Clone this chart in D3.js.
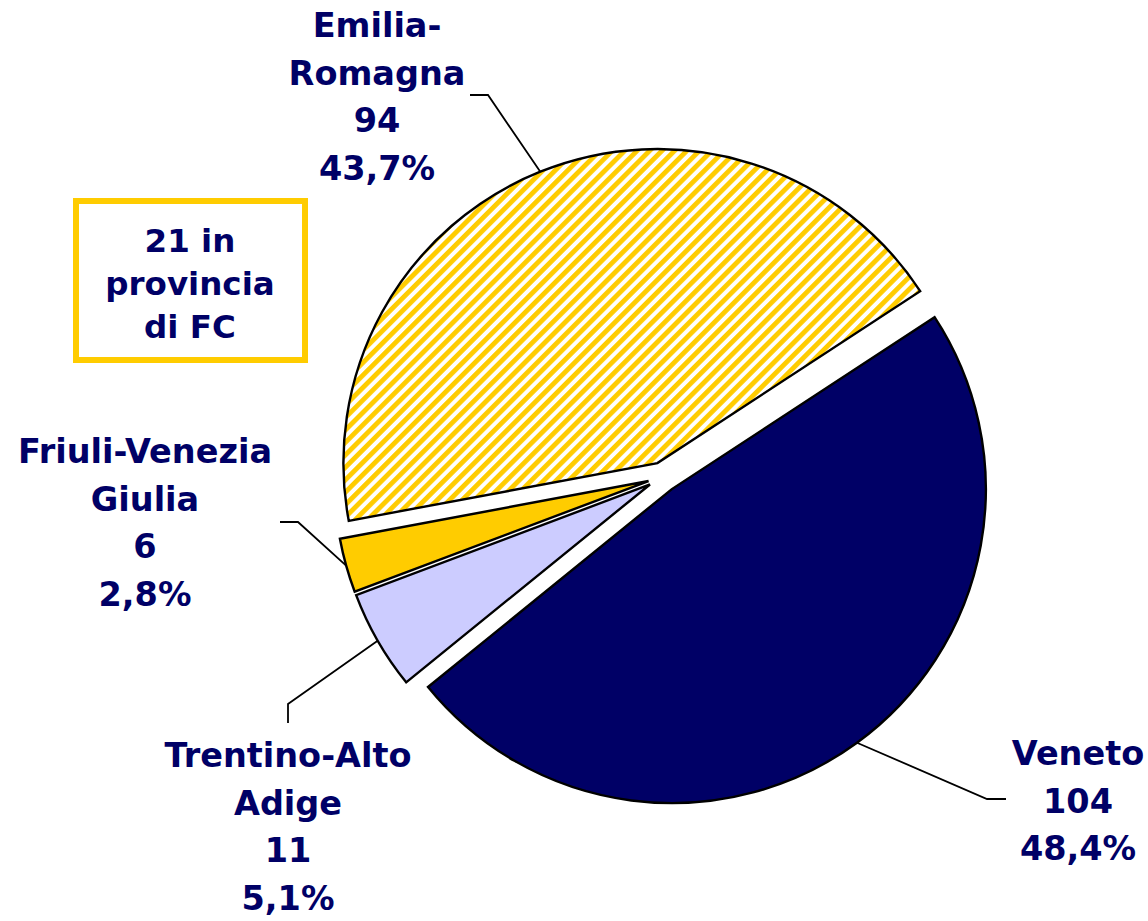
<!DOCTYPE html>
<html><head><meta charset="utf-8">
<script src="https://cdn.jsdelivr.net/npm/d3@7/dist/d3.min.js"></script>
<style>html,body{margin:0;padding:0;background:#fff;}</style>
</head><body>
<svg id="chart" width="1148" height="921"></svg>
<script>
// ---- data ----
const regions = ["Veneto", "Trentino-Alto Adige", "Friuli-Venezia Giulia", "Emilia-Romagna"];
const values = [104, 11, 6, 94];
const labelLines = [["Veneto"], ["Trentino-Alto", "Adige"], ["Friuli-Venezia", "Giulia"], ["Emilia-", "Romagna"]];
const noteLines = ["21 in", "provincia", "di FC"];

// ---- layout / style ----
const W = 1148, H = 921;
const cx = 663, cy = 477, R = 314, explode = 15;
const startDeg = 56.8;
const fills = ["#000066", "#CCCCFF", "#FFCC00", "url(#hatch)"];
const textColor = "#000066";
const fontSize = 33.5, lineH = 47.7;
// label anchor (center x, first baseline y), leader elbow & end
const labelLayout = [
  {x: 1078, y: 765, elbow: [987, 799], end: [1006, 799]},
  {x: 288, y: 767, elbow: [288, 704], end: [288, 723]},
  {x: 145, y: 463, elbow: [298, 522], end: [280, 522]},
  {x: 377, y: 37, elbow: [488, 95], end: [470, 95]}
];

const svg = d3.select("#chart");
const defs = svg.append("defs");
const P = 8.8;
const pat = defs.append("pattern").attr("id", "hatch")
  .attr("patternUnits", "userSpaceOnUse")
  .attr("width", P).attr("height", P)
  .attr("patternTransform", "rotate(45)");
pat.append("rect").attr("width", P).attr("height", P).attr("fill", "#fff");
pat.append("rect").attr("width", 4.8).attr("height", P).attr("fill", "#FFCC00");

const total = d3.sum(values);
const pie = d3.pie().sort(null)
  .startAngle(startDeg * Math.PI / 180)
  .endAngle(startDeg * Math.PI / 180 + 2 * Math.PI);
const arcs = pie(values);
const arc = d3.arc().innerRadius(0).outerRadius(R);
const rimArc = d3.arc().innerRadius(R).outerRadius(R);

function offset(d) {
  const a = (d.startAngle + d.endAngle) / 2;
  return [Math.sin(a) * explode, -Math.cos(a) * explode];
}

const g = svg.append("g").attr("transform", `translate(${cx},${cy})`);
g.selectAll("path.slice").data(arcs).join("path")
  .attr("class", "slice")
  .attr("d", arc)
  .attr("transform", d => `translate(${offset(d)})`)
  .attr("fill", (d, i) => fills[i])
  .attr("stroke", "#000")
  .attr("stroke-width", 2.4)
  .attr("stroke-linejoin", "miter");

// leader lines
arcs.forEach((d, i) => {
  const o = offset(d);
  const c = rimArc.centroid(d);
  const p0 = [cx + o[0] + c[0], cy + o[1] + c[1]];
  const L = labelLayout[i];
  svg.append("polyline")
    .attr("points", [p0, L.elbow, L.end].map(p => p.join(",")).join(" "))
    .attr("fill", "none").attr("stroke", "#000").attr("stroke-width", 1.8);
});

// labels
const fmt = v => (Math.round(v * 1000) / 10).toFixed(1).replace(".", ",") + "%";
arcs.forEach((d, i) => {
  const L = labelLayout[i];
  const lines = labelLines[i].concat([String(values[i]), fmt(values[i] / total)]);
  const t = svg.append("text")
    .attr("text-anchor", "middle")
    .attr("font-family", "'DejaVu Sans', Verdana, sans-serif")
    .attr("font-weight", "bold")
    .attr("font-size", fontSize)
    .attr("fill", textColor);
  lines.forEach((s, k) => {
    t.append("tspan").attr("x", L.x).attr("y", L.y + k * lineH).text(s);
  });
});

// note box
svg.append("rect").attr("x", 76).attr("y", 201).attr("width", 229).attr("height", 159)
  .attr("fill", "#fff").attr("stroke", "#FFCC00").attr("stroke-width", 6);
const nt = svg.append("text")
  .attr("text-anchor", "middle")
  .attr("font-family", "'DejaVu Sans', Verdana, sans-serif")
  .attr("font-weight", "bold")
  .attr("font-size", 32.5)
  .attr("fill", textColor);
noteLines.forEach((s, k) => {
  nt.append("tspan").attr("x", 190).attr("y", 252 + k * 43).text(s);
});
</script>
</body></html>
